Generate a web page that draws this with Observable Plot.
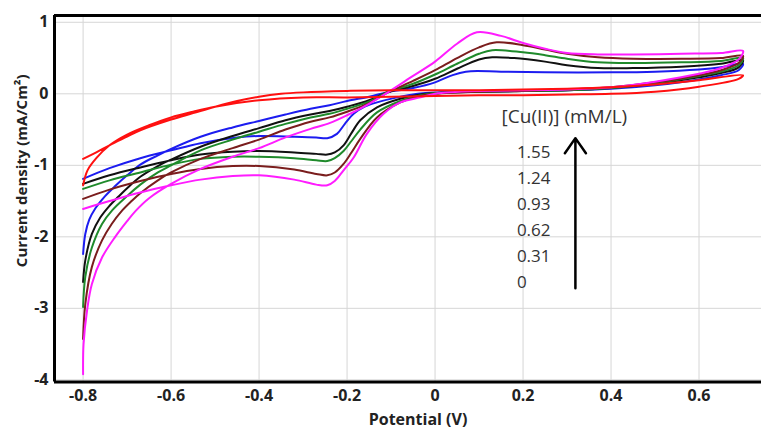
<!DOCTYPE html>
<html>
<head>
<meta charset="utf-8">
<script src="https://cdn.jsdelivr.net/npm/d3@7"></script>
<script src="https://cdn.jsdelivr.net/npm/@observablehq/plot@0.6"></script>
<style>
  html, body { margin: 0; padding: 0; background: #fff; }
  svg { display: block; }
</style>
</head>
<body>
<div id="chart"></div>
<script>
// ---- axis setup ----
const xDomain = [-0.865, 0.742];
const yDomain = [-4.03, 1.095];
const xTicks = [-0.8, -0.6, -0.4, -0.2, 0, 0.2, 0.4, 0.6];
const yTicks = [-4, -3, -2, -1, 0, 1];
const xLabel = "Potential (V)";
const yLabel = "Current density (mA/Cm²)";

// ---- series: [potential (V), current density (mA/cm2)] in scan order ----
const seriesNames = ["0", "0.31", "0.62", "0.93", "1.24", "1.55"];
const seriesColors = ["#ff1010", "#1c1cf0", "#111111", "#1f8a2b", "#7a1d1d", "#ff1cff"];

const red = [
  [-0.8,-0.91],[-0.77,-0.82],[-0.74,-0.72],[-0.7,-0.6],[-0.67,-0.51],[-0.6,-0.36],[-0.55,-0.27],
  [-0.5,-0.18],[-0.45,-0.1],[-0.4,-0.04],[-0.35,0.0],[-0.3,0.02],[-0.2,0.04],[-0.1,0.05],[0,0.05],
  [0.1,0.05],[0.2,0.06],[0.3,0.07],[0.4,0.09],[0.5,0.13],[0.6,0.19],[0.7,0.26],
  [0.69,0.21],[0.6,0.1],[0.5,0.03],[0.4,0.0],[0.3,-0.01],[0.2,-0.02],[0.1,-0.02],[0,-0.03],
  [-0.1,-0.04],[-0.2,-0.05],[-0.3,-0.05],[-0.4,-0.09],[-0.5,-0.18],[-0.55,-0.25],[-0.6,-0.33],
  [-0.65,-0.44],[-0.7,-0.57],[-0.74,-0.72],[-0.77,-0.9],[-0.79,-1.07],[-0.8,-1.28]
];
const blue = [
  [-0.8,-2.24],[-0.795,-1.96],[-0.786,-1.76],[-0.772,-1.6],[-0.75,-1.43],[-0.727,-1.29],[-0.7,-1.14],
  [-0.67,-0.99],[-0.63,-0.86],[-0.6,-0.77],[-0.533,-0.6],[-0.46,-0.47],[-0.4,-0.38],[-0.34,-0.29],
  [-0.283,-0.21],[-0.24,-0.16],[-0.2,-0.1],[-0.15,-0.04],[-0.11,0.02],[-0.05,0.08],[0,0.16],
  [0.035,0.25],[0.07,0.31],[0.15,0.31],[0.25,0.3],[0.4,0.3],[0.5,0.31],[0.6,0.34],[0.65,0.37],[0.7,0.42],
  [0.69,0.33],[0.65,0.26],[0.6,0.2],[0.5,0.12],[0.4,0.07],[0.3,0.05],[0.2,0.04],[0.1,0.03],[0,0.02],
  [-0.04,0.0],[-0.086,-0.05],[-0.132,-0.12],[-0.16,-0.18],[-0.185,-0.28],[-0.205,-0.42],[-0.223,-0.56],
  [-0.245,-0.62],[-0.27,-0.61],[-0.32,-0.6],[-0.4,-0.59],[-0.45,-0.61],[-0.533,-0.69],[-0.6,-0.79],
  [-0.67,-0.9],[-0.74,-1.04],[-0.8,-1.19]
];
const black = [
  [-0.8,-2.63],[-0.795,-2.33],[-0.78,-1.96],[-0.761,-1.73],[-0.742,-1.58],[-0.72,-1.44],[-0.7,-1.32],
  [-0.67,-1.16],[-0.63,-1.01],[-0.6,-0.92],[-0.533,-0.74],[-0.46,-0.59],[-0.4,-0.48],[-0.34,-0.37],
  [-0.283,-0.29],[-0.24,-0.24],[-0.2,-0.18],[-0.15,-0.09],[-0.11,0.02],[-0.05,0.11],[0,0.21],
  [0.05,0.35],[0.1,0.48],[0.13,0.51],[0.18,0.5],[0.25,0.45],[0.3,0.4],[0.37,0.36],[0.45,0.36],
  [0.56,0.38],[0.65,0.42],[0.7,0.47],
  [0.69,0.37],[0.65,0.29],[0.6,0.23],[0.5,0.14],[0.4,0.08],[0.3,0.05],[0.2,0.04],[0.1,0.03],[0,0.01],
  [-0.033,-0.01],[-0.079,-0.07],[-0.132,-0.19],[-0.17,-0.37],[-0.19,-0.55],[-0.208,-0.72],[-0.228,-0.82],
  [-0.245,-0.85],[-0.27,-0.84],[-0.32,-0.82],[-0.4,-0.8],[-0.46,-0.81],[-0.533,-0.85],[-0.6,-0.93],
  [-0.67,-1.03],[-0.74,-1.14],[-0.8,-1.26]
];
const green = [
  [-0.8,-2.98],[-0.795,-2.56],[-0.78,-2.15],[-0.757,-1.82],[-0.734,-1.63],[-0.7,-1.43],[-0.67,-1.27],
  [-0.63,-1.1],[-0.6,-1.0],[-0.533,-0.79],[-0.46,-0.64],[-0.4,-0.53],[-0.34,-0.42],[-0.283,-0.33],
  [-0.24,-0.28],[-0.2,-0.21],[-0.15,-0.11],[-0.11,0.02],[-0.05,0.14],[0,0.27],[0.05,0.42],[0.1,0.56],
  [0.13,0.61],[0.2,0.58],[0.25,0.54],[0.3,0.49],[0.37,0.44],[0.45,0.43],[0.56,0.44],[0.65,0.46],[0.7,0.5],
  [0.69,0.4],[0.65,0.31],[0.6,0.25],[0.5,0.15],[0.4,0.08],[0.3,0.05],[0.2,0.04],[0.1,0.03],[0,0.01],
  [-0.033,-0.02],[-0.079,-0.1],[-0.132,-0.26],[-0.17,-0.5],[-0.19,-0.66],[-0.208,-0.8],[-0.228,-0.9],
  [-0.245,-0.94],[-0.27,-0.93],[-0.32,-0.9],[-0.4,-0.88],[-0.46,-0.88],[-0.533,-0.91],[-0.6,-0.99],
  [-0.67,-1.1],[-0.74,-1.21],[-0.8,-1.33]
];
const brown = [
  [-0.8,-3.43],[-0.795,-2.94],[-0.78,-2.42],[-0.757,-2.05],[-0.735,-1.82],[-0.711,-1.63],[-0.69,-1.5],
  [-0.67,-1.39],[-0.63,-1.21],[-0.6,-1.1],[-0.533,-0.91],[-0.46,-0.76],[-0.4,-0.64],[-0.34,-0.5],
  [-0.283,-0.39],[-0.24,-0.33],[-0.2,-0.25],[-0.15,-0.13],[-0.11,0.01],[-0.05,0.18],[0,0.33],
  [0.05,0.5],[0.1,0.65],[0.14,0.72],[0.2,0.68],[0.25,0.62],[0.3,0.56],[0.37,0.51],[0.45,0.49],
  [0.56,0.49],[0.65,0.5],[0.7,0.53],
  [0.69,0.43],[0.65,0.33],[0.6,0.26],[0.5,0.16],[0.4,0.09],[0.3,0.06],[0.2,0.04],[0.1,0.03],[0,0.0],
  [-0.033,-0.03],[-0.079,-0.12],[-0.132,-0.33],[-0.17,-0.63],[-0.19,-0.82],[-0.208,-0.98],[-0.228,-1.1],
  [-0.245,-1.14],[-0.27,-1.12],[-0.32,-1.06],[-0.4,-1.01],[-0.46,-1.01],[-0.533,-1.05],[-0.6,-1.12],
  [-0.67,-1.22],[-0.74,-1.34],[-0.8,-1.47]
];
const magenta = [
  [-0.8,-3.92],[-0.799,-3.5],[-0.791,-3.03],[-0.78,-2.66],[-0.757,-2.29],[-0.727,-2.0],[-0.7,-1.78],
  [-0.681,-1.64],[-0.65,-1.46],[-0.6,-1.26],[-0.533,-1.05],[-0.46,-0.88],[-0.4,-0.76],[-0.34,-0.61],
  [-0.283,-0.49],[-0.24,-0.41],[-0.2,-0.3],[-0.15,-0.14],[-0.11,0.01],[-0.05,0.25],[0,0.45],
  [0.05,0.7],[0.095,0.86],[0.15,0.81],[0.2,0.71],[0.25,0.63],[0.3,0.57],[0.37,0.55],[0.45,0.55],
  [0.56,0.56],[0.65,0.57],[0.7,0.6],
  [0.69,0.48],[0.65,0.36],[0.6,0.28],[0.5,0.17],[0.4,0.09],[0.3,0.06],[0.2,0.05],[0.1,0.04],[0,0.0],
  [-0.033,-0.05],[-0.079,-0.12],[-0.117,-0.28],[-0.155,-0.56],[-0.185,-0.89],[-0.208,-1.07],[-0.228,-1.22],
  [-0.245,-1.28],[-0.27,-1.27],[-0.32,-1.2],[-0.4,-1.14],[-0.46,-1.15],[-0.533,-1.2],[-0.6,-1.28],
  [-0.67,-1.38],[-0.74,-1.5],[-0.8,-1.61]
];

// ---- annotation ----
const legendTitle = "[Cu(II)] (mM/L)";
const legendLabels = ["1.55", "1.24", "0.93", "0.62", "0.31", "0"];
const legendTitleAt = [0.294, -0.33];
const legendLabelE = 0.186, legendLabelTop = -0.82, legendLabelStep = -0.364;
const arrowSpec = [{E: 0.319, from: -2.72, to: -0.62}];

// ---- build ----
const seriesData = [red, blue, black, green, brown, magenta];
const drawOrder = [1, 2, 3, 4, 5, 0]; // red on top
const lineMarks = drawOrder.map(k =>
  Plot.line(seriesData[k].map(([E, I]) => ({E, I, s: seriesNames[k]})), {
    x: "E", y: "I", stroke: seriesColors[k], strokeWidth: 2, curve: "catmull-rom"
  })
);
const legendRows = legendLabels.map((t, i) => ({t, E: legendLabelE, I: legendLabelTop + i * legendLabelStep}));

const fontFamily = "'Open Sans', 'DejaVu Sans', sans-serif";
const chart = Plot.plot({
  width: 761,
  height: 430,
  marginLeft: 54,
  marginRight: 0,
  marginTop: 15,
  marginBottom: 48.5,
  style: {fontFamily, background: "#fff", color: "#222"},
  x: {domain: xDomain},
  y: {domain: yDomain},
  marks: [
    Plot.gridX(xTicks, {stroke: "#d6d6d6", strokeOpacity: 1, strokeWidth: 1}),
    Plot.gridY(yTicks, {stroke: "#d6d6d6", strokeOpacity: 1, strokeWidth: 1}),
    Plot.axisX(xTicks, {tickSize: 0, tickPadding: 8, tickFormat: d => String(d), fontSize: 16, fontWeight: "bold", label: null}),
    Plot.axisY(yTicks, {tickSize: 0, tickPadding: 6, tickFormat: d => String(d), fontSize: 16, fontWeight: "bold", label: null}),
    ...lineMarks,
    Plot.ruleX([xDomain[0]], {stroke: "#000", strokeWidth: 3}),
    Plot.ruleY([yDomain[0]], {stroke: "#000", strokeWidth: 3}),
    Plot.ruleY([yDomain[1]], {stroke: "#000", strokeWidth: 3}),
    Plot.text([xLabel], {text: d => d, frameAnchor: "bottom", dy: 43, dx: 10, fontSize: 16, fontWeight: "bold", fill: "#222"}),
    Plot.text([yLabel], {text: d => d, frameAnchor: "left", textAnchor: "middle", dx: -32, dy: -28, rotate: -90, fontSize: 15, fontWeight: "bold", fill: "#222"}),
    Plot.text([legendTitle], {text: d => d, x: () => legendTitleAt[0], y: () => legendTitleAt[1], fontSize: 19, fill: "#333"}),
    Plot.text(legendRows, {text: "t", x: "E", y: "I", textAnchor: "start", fontSize: 17, fill: "#333"}),
    Plot.arrow(arrowSpec, {x1: "E", x2: "E", y1: "from", y2: "to", stroke: "#000", strokeWidth: 2.5, headLength: 11, headAngle: 70, insetStart: 0, insetEnd: 0})
  ]
});
document.getElementById("chart").appendChild(chart);
</script>
</body>
</html>
